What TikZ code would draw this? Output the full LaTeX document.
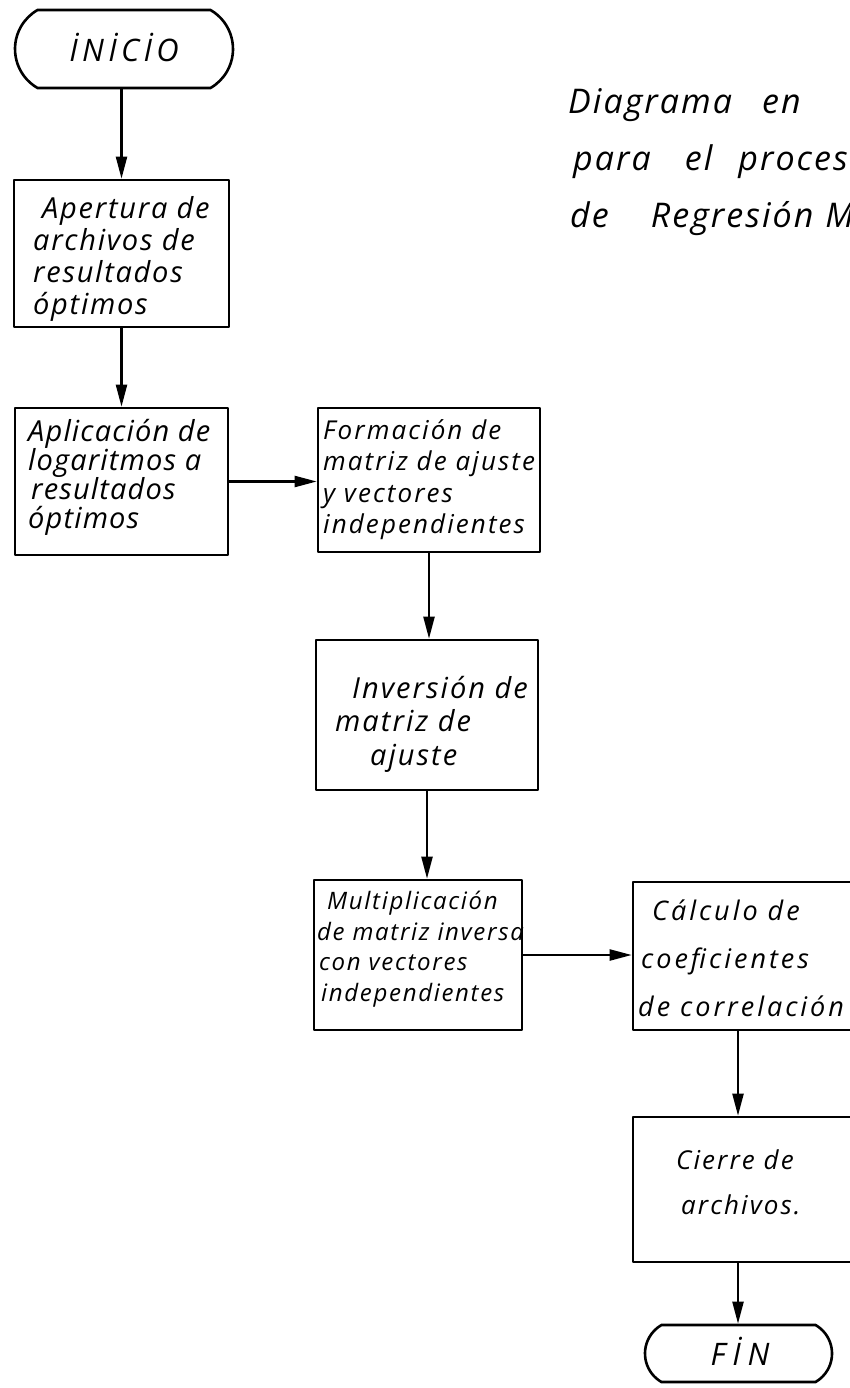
\documentclass[tikz,border=0pt]{standalone}
\usepackage{fontspec}
\usetikzlibrary{arrows.meta,shapes.misc}
\newfontfamily\hand{Open Sans}
% italic lettering: size, line skip, letter spacing
\newcommand\handfont[3]{\hand\itshape\addfontfeatures{LetterSpace=#3}\fontsize{#1}{#2}\selectfont}
\tikzset{
  stepbox/.style={draw, line width=2.6pt, rectangle, inner sep=0pt, line join=round},
  term/.style={draw, line width=2.6pt, rounded rectangle, rounded rectangle arc length=120, inner sep=0pt},
  flow/.style={line width=2.2pt, -{Triangle[length=22pt,width=11pt]}},
  txt/.style={anchor=north west, inner sep=0pt, align=left},
  ttl/.style={anchor=base west, inner sep=0pt, font=\handfont{34}{38}{6}}
}
\begin{document}
\begin{tikzpicture}[x=1pt,y=-1pt]
\useasboundingbox (0,0) rectangle (850,1388);
\clip (0,0) rectangle (850,1388);

% title
\node[ttl] (tl1) at (568,114) {Diagrama\hspace{30pt}en};
\node[ttl] (tl2) at (573,171) {para\hspace{34pt}el\hspace{26pt}proces};
\node[ttl] (tl3) at (570,228) {de\hspace{42pt}Regresión\hspace{12pt}M};

% terminals and process boxes
\node[term, minimum width=218pt, minimum height=78pt] (ini) at (124,49) {};
\node[font=\handfont{31}{34}{14}] (tini) at (124,47) {İNİCİO};

\node[stepbox, minimum width=215pt, minimum height=147pt] (b1) at (121.5,253.5) {};
\node[txt, font=\handfont{29}{32}{6}] (t1) at (33,196)
  {\hspace*{9pt}Apertura de\\archivos de\\resultados\\óptimos};

\node[stepbox, minimum width=213pt, minimum height=147pt] (b2) at (121.5,481.5) {};
\node[txt, font=\handfont{29}{29}{4}] (t2) at (28,419)
  {Aplicación de\\logaritmos a\\\hspace*{3pt}resultados\\óptimos};

\node[stepbox, minimum width=222pt, minimum height=144pt] (b3) at (429,480) {};
\node[txt, font=\handfont{26}{31.5}{8}] (t3) at (323,419)
  {Formación de\\matriz de ajuste\\y vectores\\independientes};

\node[stepbox, minimum width=222pt, minimum height=150pt] (b4) at (427,715) {};
\node[txt, font=\handfont{29}{33.5}{7}] (t4) at (335,676)
  {\hspace*{17pt}Inversión de\\matriz de\\\hspace*{35pt}ajuste};

\node[stepbox, minimum width=208pt, minimum height=150pt] (b5) at (418,955) {};
\node[txt, font=\handfont{24}{30.5}{7}] (t5) at (317,891)
  {\hspace*{10pt}Multiplicación\\de matriz inversa\\\hspace*{2pt}con vectores\\\hspace*{4pt}independientes};

\node[stepbox, minimum width=237pt, minimum height=148pt] (b6) at (751.5,956) {};
\node[txt, font=\handfont{27}{48}{11}] (t6) at (638,900)
  {\hspace*{14pt}Cálculo de\\\hspace*{3pt}coeficientes\\de correlación};

\node[stepbox, minimum width=237pt, minimum height=145pt] (b7) at (751.5,1189.5) {};
\node[txt, font=\handfont{26}{45}{8}] (t7) at (676,1150)
  {Cierre de\\\hspace*{5pt}archivos.};

\node[term, minimum width=187pt, minimum height=57pt] (fin) at (738.5,1353.5) {};
\node[font=\handfont{31}{34}{22}] (tfin) at (740,1351) {FİN};

% connectors
\draw[flow] (ini.south -| b1.north) -- (b1.north);
\draw[flow] (b1.south) -- (b2.north);
\draw[flow] (b2.east) -- (b2.east -| b3.west);
\draw[flow] (b3.south) -- (b3.south |- b4.north);
\draw[flow] (b4.south) -- (b4.south |- b5.north);
\draw[flow] (b5.east) -- (b5.east -| b6.west);
\coordinate (c6) at (738,0);
\draw[flow] (b6.south -| c6) -- (b7.north -| c6);
\draw[flow] (b7.south -| c6) -- (fin.north -| c6);
\end{tikzpicture}
\end{document}
